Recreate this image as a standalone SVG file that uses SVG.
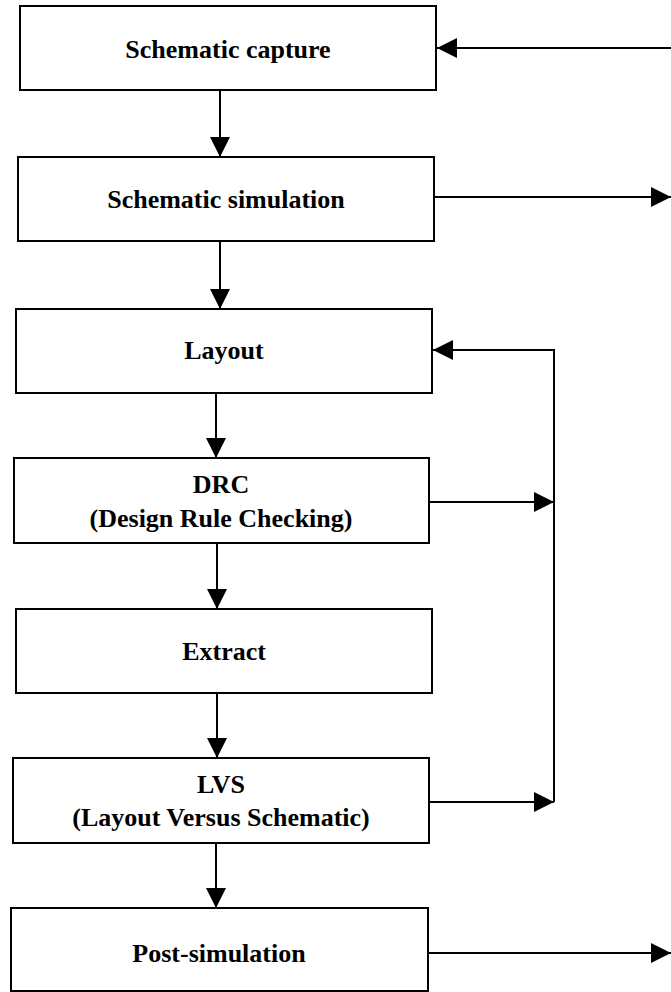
<svg xmlns="http://www.w3.org/2000/svg" width="671" height="992" viewBox="0 0 671 992">
<style>
.box{fill:#fff;stroke:#000;stroke-width:2}
.lbl{font-family:"Liberation Serif","Times New Roman",serif;font-weight:bold;font-size:26px;text-anchor:middle;fill:#000}
.ln{fill:none;stroke:#000;stroke-width:2}
</style>
<defs>
<marker id="ah" markerUnits="userSpaceOnUse" markerWidth="20" markerHeight="20" refX="20" refY="10" orient="auto" viewBox="0 0 20 20">
<path d="M0,0 L20,10 L0,20 Z" fill="#000"/>
</marker>
</defs>
<rect width="671" height="992" fill="#fff"/>
<g id="n1"><rect class="box" x="20" y="6" width="416" height="84"/><text class="lbl" x="228" y="58">Schematic capture</text></g>
<g id="n2"><rect class="box" x="18" y="157" width="416" height="84"/><text class="lbl" x="226" y="208">Schematic simulation</text></g>
<g id="n3"><rect class="box" x="16" y="309" width="416" height="84"/><text class="lbl" x="224" y="359">Layout</text></g>
<g id="n4"><rect class="box" x="14" y="458" width="415" height="85"/><text class="lbl" x="221" y="493">DRC</text><text class="lbl" x="221" y="527">(Design Rule Checking)</text></g>
<g id="n5"><rect class="box" x="16" y="609" width="416" height="84"/><text class="lbl" x="224" y="660">Extract</text></g>
<g id="n6"><rect class="box" x="13" y="758" width="416" height="85"/><text class="lbl" x="221" y="793">LVS</text><text class="lbl" x="221" y="826">(Layout Versus Schematic)</text></g>
<g id="n7"><rect class="box" x="11" y="908" width="417" height="83"/><text class="lbl" x="219" y="962">Post-simulation</text></g>
<g id="connectors">
<line class="ln" x1="220" y1="90" x2="220" y2="157" marker-end="url(#ah)"/>
<line class="ln" x1="220" y1="241" x2="220" y2="309" marker-end="url(#ah)"/>
<line class="ln" x1="216" y1="393" x2="216" y2="458" marker-end="url(#ah)"/>
<line class="ln" x1="217" y1="543" x2="217" y2="609" marker-end="url(#ah)"/>
<line class="ln" x1="217" y1="693" x2="217" y2="758" marker-end="url(#ah)"/>
<line class="ln" x1="216" y1="843" x2="216" y2="908" marker-end="url(#ah)"/>
<line class="ln" x1="671" y1="48" x2="437" y2="48" marker-end="url(#ah)"/>
<line class="ln" x1="434" y1="197" x2="671" y2="197" marker-end="url(#ah)"/>
<line class="ln" x1="428" y1="953" x2="671" y2="953" marker-end="url(#ah)"/>
<polyline class="ln" points="554,802 554,350 453,350"/>
<line class="ln" x1="454" y1="350" x2="433" y2="350" marker-end="url(#ah)"/>
<line class="ln" x1="429" y1="502" x2="554" y2="502" marker-end="url(#ah)"/>
<line class="ln" x1="429" y1="802" x2="554" y2="802" marker-end="url(#ah)"/>
</g>
</svg>
